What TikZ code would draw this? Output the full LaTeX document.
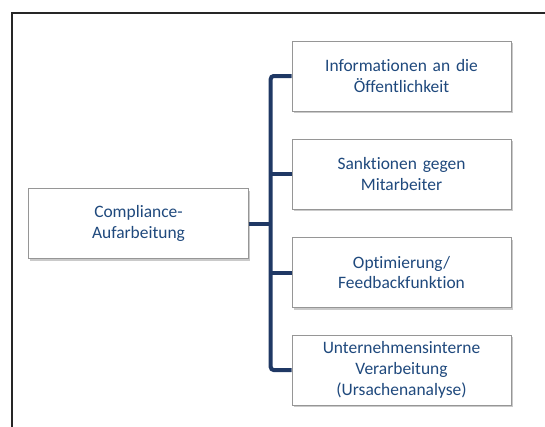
\documentclass[tikz,border=0pt]{standalone}
\usepackage{fontspec}
\setmainfont{Carlito}[Ligatures={NoCommon}]
\usetikzlibrary{shadows}
\definecolor{navy}{RGB}{31,56,100}
\definecolor{txtblue}{RGB}{31,73,125}
\definecolor{boxgray}{RGB}{150,150,150}
\tikzset{
  box/.style={draw=boxgray, line width=1bp, fill=white, minimum width=219bp, minimum height=70bp,
    text width=215bp, align=center, inner sep=0pt, text=txtblue,
    font=\fontsize{17.5}{20.8}\selectfont,
    drop shadow={shadow xshift=1.5bp, shadow yshift=-2bp, opacity=0.35, fill=black!60}},
  conn/.style={draw=navy, line width=4bp, rounded corners=3bp},
  frame/.style={draw=black!85, line width=1.2bp}
}
\begin{document}
\begin{tikzpicture}[x=1bp,y=-1bp]
\useasboundingbox (0,0) rectangle (545,426);
\draw[frame] (12,430) -- (12,13) -- (550,13);
\node[box] (c) at (138.5,223.5) {Compliance-\\Aufarbeitung};
\node[box] (b1) at (401.5,76) {Informationen an die\\Öffentlichkeit};
\node[box] (b2) at (401.5,174) {Sanktionen gegen\\Mitarbeiter};
\node[box] (b3) at (401.5,272.5) {Optimierung/\\Feedbackfunktion};
\node[box] (b4) at (401.5,370) {Unternehmensinterne\\Verarbeitung\\(Ursachenanalyse)};
\coordinate (t1) at (270.7,76);
\coordinate (t4) at (270.7,370);
\draw[conn] (b1.west) -- (t1) -- (t4) -- (b4.west);
\draw[conn] (b2.west) -- (b2.west -| t1);
\draw[conn] (b3.west) -- (b3.west -| t1);
\draw[conn] (c.east) -- (c.east -| t1);
\end{tikzpicture}
\end{document}
